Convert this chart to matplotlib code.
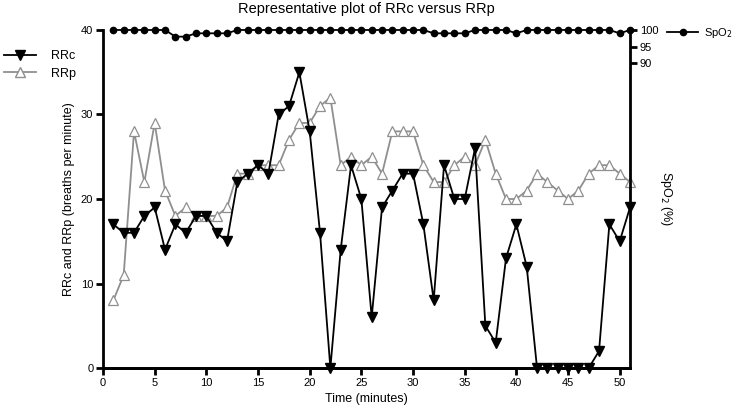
import matplotlib
matplotlib.use('Agg')
import matplotlib.pyplot as plt
from matplotlib.lines import Line2D

plt.rcParams['font.family'] = ['Liberation Sans', 'DejaVu Sans']

minutes = list(range(1, 52))

# respiratory rate from the camera (RRc)
rrc = [17, 16, 16, 18, 19, 14, 17, 16, 18, 18,
       16, 15, 22, 23, 24, 23, 30, 31, 35, 28,
       16, 0, 14, 24, 20, 6, 19, 21, 23, 23,
       17, 8, 24, 20, 20, 26, 5, 3, 13, 17,
       12, 0, 0, 0, 0, 0, 0, 2, 17, 15, 19]

# respiratory rate from the reference (RRp)
rrp = [8, 11, 28, 22, 29, 21, 18, 19, 18, 18,
       18, 19, 23, 23, 24, 24, 24, 27, 29, 29,
       31, 32, 24, 25, 24, 25, 23, 28, 28, 28,
       24, 22, 22, 24, 25, 24, 27, 23, 20, 20,
       21, 23, 22, 21, 20, 21, 23, 24, 24, 23, 22]

# oxygen saturation
spo2 = [100, 100, 100, 100, 100, 100, 98, 98, 99, 99,
        99, 99, 100, 100, 100, 100, 100, 100, 100, 100,
        100, 100, 100, 100, 100, 100, 100, 100, 100, 100,
        100, 99, 99, 99, 99, 100, 100, 100, 100, 99,
        100, 100, 100, 100, 100, 100, 100, 100, 100, 99, 100]

fig = plt.figure(figsize=(7.38, 4.09), dpi=100)
ax = fig.add_axes([0.1396, 0.1002, 0.7141, 0.8265])
ax2 = ax.twinx()

grey = '#8f8f8f'
ax.plot(minutes, rrp, color=grey, lw=1.3, marker='^', ms=7,
        mfc='white', mec=grey, mew=0.9, clip_on=False, zorder=3)
ax.plot(minutes, rrc, color='black', lw=1.3, marker='v', ms=7,
        mfc='black', mec='black', clip_on=False, zorder=4)
ax2.plot(minutes, spo2, color='black', lw=1.3, marker='o', ms=4.5,
         clip_on=False, zorder=4)

ax.set_xlim(0, 51)
ax.set_ylim(0, 40)
ax.set_xticks(range(0, 51, 5))
ax.set_yticks(range(0, 41, 10))
ax2.set_ylim(-1.5, 100)
ax2.set_yticks([90, 95, 100])

for a in (ax, ax2):
    a.spines['top'].set_visible(False)
    for s in ('left', 'right', 'bottom'):
        a.spines[s].set_linewidth(2)
    a.tick_params(width=2, length=5, labelsize=8, pad=2)
ax.patch.set_visible(False)
ax2.spines['left'].set_visible(False)
ax.spines['right'].set_visible(False)

ax.set_title('Representative plot of RRc versus RRp', fontsize=10.5, pad=12)
ax.set_xlabel('Time (minutes)', fontsize=9, labelpad=4)
ax.set_ylabel('RRc and RRp (breaths per minute)', fontsize=9, labelpad=4)
ax2.set_ylabel('SpO$_2$ (%)', fontsize=9, rotation=270, labelpad=11)

left_handles = [
    Line2D([], [], color='black', lw=1.3, marker='v', ms=7, mfc='black'),
    Line2D([], [], color=grey, lw=1.3, marker='^', ms=7, mfc='white', mec=grey),
]
fig.legend(left_handles, ['RRc', 'RRp'], loc='upper left',
           bbox_to_anchor=(-0.01, 0.905), frameon=False, fontsize=9,
           handlelength=2.6, handletextpad=1.2, labelspacing=0.45)

right_handles = [Line2D([], [], color='black', lw=1.3, marker='o', ms=4.5)]
fig.legend(right_handles, ['SpO$_2$'], loc='upper left',
           bbox_to_anchor=(0.892, 0.958), frameon=False, fontsize=8,
           handlelength=2.8, handletextpad=0.5, borderpad=0.3)

fig.savefig('out.png', dpi=100)
